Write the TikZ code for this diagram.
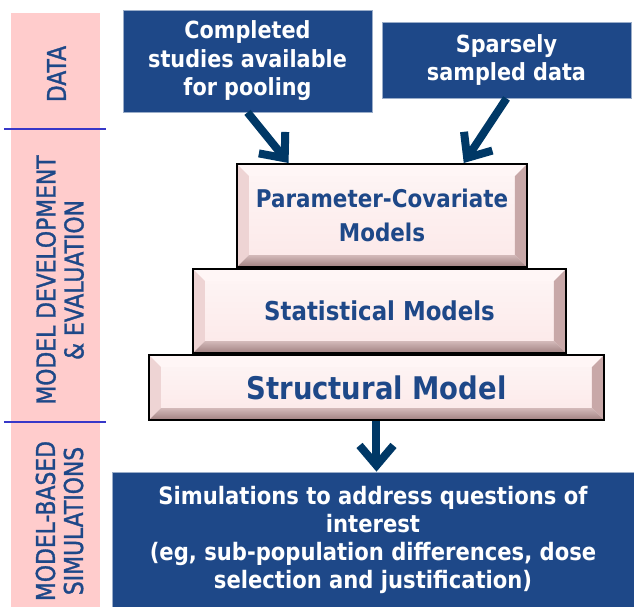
\documentclass[tikz,border=0pt]{standalone}
\usepackage{fontspec}
\usepackage{tikz}
\usetikzlibrary{arrows.meta,positioning,calc}

\newfontfamily\labfont{DejaVu Sans}[FakeStretch=0.84,FakeBold=1.3]
\newfontfamily\boxfont{DejaVu Sans}[FakeStretch=0.88]

\definecolor{barpink}{RGB}{255,204,204}
\definecolor{navy}{RGB}{30,72,136}
\definecolor{arrownavy}{RGB}{0,56,102}
\definecolor{rulecol}{RGB}{55,55,200}
\definecolor{slabpink}{RGB}{252,232,232}
\definecolor{bevlight}{RGB}{255,246,246}
\definecolor{bevside}{RGB}{238,212,212}
\definecolor{bevright}{RGB}{200,168,168}
\definecolor{bevdark}{RGB}{160,128,128}

\begin{document}
\begin{tikzpicture}[x=0.5pt,y=-0.5pt,
            phase/.style={rotate=90,align=center,text=navy,inner sep=0pt,font=\labfont\fontsize{13}{14}\selectfont},
            datbox/.style={draw=navy!45!white,fill=navy,text=white,align=center,inner sep=0pt},
            slab/.style={draw=black,line width=1pt,top color=white!60!slabpink,bottom color=slabpink,
              text=navy,align=center,inner sep=0pt,
              path picture={
                \fill[bevlight] (path picture bounding box.north west) -- (path picture bounding box.north east)
                  -- ([shift={(-6pt,-6pt)}]path picture bounding box.north east) -- ([shift={(6pt,-6pt)}]path picture bounding box.north west) -- cycle;
                \fill[bevside] (path picture bounding box.north west) -- ([shift={(6pt,-6pt)}]path picture bounding box.north west)
                  -- ([shift={(6pt,6pt)}]path picture bounding box.south west) -- (path picture bounding box.south west) -- cycle;
                \fill[bevright] (path picture bounding box.north east) -- ([shift={(-6pt,-6pt)}]path picture bounding box.north east)
                  -- ([shift={(-6pt,6pt)}]path picture bounding box.south east) -- (path picture bounding box.south east) -- cycle;
                \shade[top color=bevright!80!white,bottom color=bevdark] (path picture bounding box.south west) -- ([shift={(6pt,6pt)}]path picture bounding box.south west)
                  -- ([shift={(-6pt,6pt)}]path picture bounding box.south east) -- (path picture bounding box.south east) -- cycle;
              }},
            flow/.style={draw=arrownavy,line width=4pt,-{Straight Barb[length=10pt,width=17pt]}}
          ]
          \useasboundingbox (0,0) rectangle (634,607);

          %phase column
          \fill[barpink] (11,13) rectangle (100,607);
          \draw[rulecol,line width=1pt] (4,129) -- (106,129);
          \draw[rulecol,line width=1pt] (4,422) -- (106,422);
          \node[phase] (data) at (56.5,74) {DATA};
          \node[phase] (dev) at (60,280) {MODEL DEVELOPMENT\\\& EVALUATION};
          \node[phase] (sim) at (59.5,521) {MODEL-BASED\\SIMULATIONS};

          %data sources
          \node[datbox,minimum width=124.5pt,minimum height=51pt,font=\boxfont\bfseries\fontsize{11.8}{14.25}\selectfont] (pool) at (247.5,61) {Completed\\studies available\\for pooling};
          \node[datbox,minimum width=124.5pt,minimum height=38pt,font=\boxfont\bfseries\fontsize{11.8}{14}\selectfont] (sparse) at (506.5,60) {Sparsely\\sampled data};

          %model pyramid
          \node[slab,minimum width=145pt,minimum height=51.5pt,font=\boxfont\bfseries\fontsize{12.2}{17}\selectfont] (pc) at (382,215.5) {Parameter-Covariate\\Models};
          \node[slab,below=0pt of pc,xshift=-1.25pt,minimum width=186.5pt,minimum height=42pt,font=\boxfont\bfseries\fontsize{13}{15}\selectfont] (stat) {Statistical Models};
          \node[slab,below=0pt of stat,xshift=-1.5pt,minimum width=227.5pt,minimum height=32.5pt,font=\boxfont\bfseries\fontsize{15.6}{18}\selectfont] (struct) {Structural Model};

          %simulations
          \node[datbox,minimum width=261pt,minimum height=67.5pt,font=\boxfont\bfseries\fontsize{12}{14}\selectfont] (sims) at (373,539.5) {Simulations to address questions of\\interest\\(eg, sub-population differences, dose\\selection and justification)};

          %arrows
          \draw[flow] (pool.south) -- ($(pc.north west)!0.18!(pc.north east)$);
          \draw[flow] (sparse.south) -- ($(pc.north west)!0.78!(pc.north east)$);
          \draw[flow] (struct.south) -- (struct.south |- sims.north);
      \end{tikzpicture}
\end{document}
